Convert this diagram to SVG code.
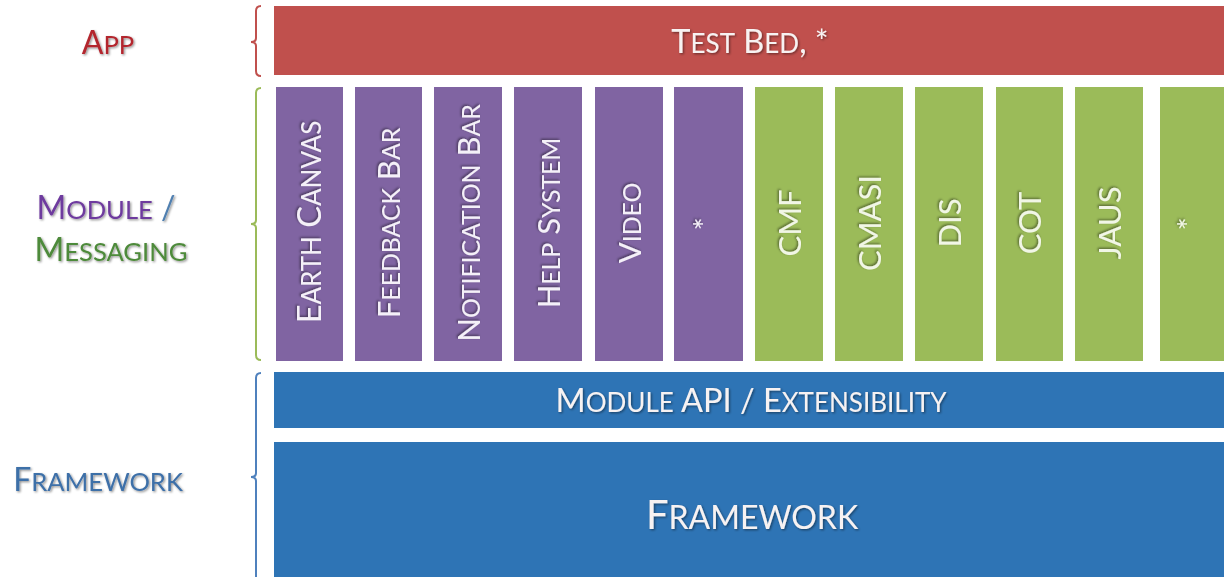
<svg xmlns="http://www.w3.org/2000/svg" width="1224" height="577" viewBox="0 0 1224 577">
<defs>
<filter id="sh" x="-10%" y="-10%" width="130%" height="130%">
<feDropShadow dx="1.2" dy="1.2" stdDeviation="0.9" flood-color="#000" flood-opacity="0.45"/>
</filter>
<filter id="shv" x="-10%" y="-10%" width="130%" height="130%">
<feDropShadow dx="1.2" dy="-1.2" stdDeviation="0.9" flood-color="#000" flood-opacity="0.45"/>
</filter>
</defs>
<style>
text{font-family:Lato,"Open Sans","Liberation Sans",sans-serif;text-anchor:middle}
.s{font-size:0.8em}
.bar-t{fill:#F7F2F2;font-size:32.5px}
.col-t{fill:#F4F0F8;font-size:31px}
.colg-t{fill:#F1F6E6;font-size:31px}
.lbl{font-size:32px}
.purple{fill:#8064A2}
.green{fill:#9BBB59}
.brace{fill:none;stroke-width:2}
</style>
<rect width="1224" height="577" fill="#FFFFFF"/>
<g id="labels">
<text class="lbl" x="108" y="54" fill="#B3262D" filter="url(#sh)">A<tspan class="s">PP</tspan></text>
<text class="lbl" x="106" y="219" filter="url(#sh)"><tspan fill="#6E3A9E">M<tspan class="s">ODULE</tspan> </tspan><tspan fill="#4F7FB0">/</tspan></text>
<text class="lbl" x="111" y="261" fill="#4E8A3A" filter="url(#sh)">M<tspan class="s">ESSAGING</tspan></text>
<text class="lbl" x="98" y="491" fill="#3E6FA8" filter="url(#sh)">F<tspan class="s">RAMEWORK</tspan></text>
</g>
<g id="braces">
<path class="brace" stroke="#C0504D" d="M261 6 Q256 6 256 11 L256 38 Q256 42 251 42 Q256 42 256 46 L256 71 Q256 76 261 76"/>
<path class="brace" stroke="#9BBB59" d="M261 88 Q256 88 256 93 L256 220 Q256 224 251 224 Q256 224 256 228 L256 355 Q256 360 261 360"/>
<path class="brace" stroke="#4F81BD" d="M261 373 Q256 373 256 378 L256 473 Q256 477 251 477 Q256 477 256 481 L256 580"/>
</g>
<g id="app">
<rect x="274" y="6" width="950" height="69" fill="#C0504D"/>
<text class="bar-t" x="750" y="53" filter="url(#sh)">T<tspan class="s">EST</tspan> B<tspan class="s">ED</tspan>, *</text>
</g>
<g id="modules">
<g id="m-earth"><rect class="purple" x="276" y="87" width="67" height="274"/><text class="col-t" transform="translate(321 222) rotate(-90)" style="font-size:32.5px" filter="url(#shv)">E<tspan class="s">ARTH</tspan> C<tspan class="s">ANVAS</tspan></text></g>
<g id="m-feedback"><rect class="purple" x="355" y="87" width="67" height="274"/><text class="col-t" transform="translate(400 223) rotate(-90)" filter="url(#shv)">F<tspan class="s">EEDBACK</tspan> B<tspan class="s">AR</tspan></text></g>
<g id="m-notification"><rect class="purple" x="434" y="87" width="68" height="274"/><text class="col-t" transform="translate(480 223) rotate(-90)" filter="url(#shv)">N<tspan class="s">OTIFICATION</tspan> B<tspan class="s">AR</tspan></text></g>
<g id="m-help"><rect class="purple" x="514" y="87" width="68" height="274"/><text class="col-t" transform="translate(560 223) rotate(-90)" filter="url(#shv)">H<tspan class="s">ELP</tspan> S<tspan class="s">YSTEM</tspan></text></g>
<g id="m-video"><rect class="purple" x="595" y="87" width="68" height="274"/><text class="col-t" transform="translate(641 223) rotate(-90)" filter="url(#shv)">V<tspan class="s">IDEO</tspan></text></g>
<g id="m-star"><rect class="purple" x="674" y="87" width="69" height="274"/><text class="col-t" transform="translate(716 224) rotate(-90)" filter="url(#shv)">*</text></g>
</g>
<g id="messaging">
<g id="g-cmf"><rect class="green" x="755" y="87" width="68" height="274"/><text class="colg-t" transform="translate(801 223) rotate(-90)" filter="url(#shv)">CMF</text></g>
<g id="g-cmasi"><rect class="green" x="835" y="87" width="68" height="274"/><text class="colg-t" transform="translate(881 223) rotate(-90)" filter="url(#shv)">CMASI</text></g>
<g id="g-dis"><rect class="green" x="915" y="87" width="68" height="274"/><text class="colg-t" transform="translate(961 223) rotate(-90)" filter="url(#shv)">DIS</text></g>
<g id="g-cot"><rect class="green" x="996" y="87" width="67" height="274"/><text class="colg-t" transform="translate(1041 223) rotate(-90)" filter="url(#shv)">COT</text></g>
<g id="g-jaus"><rect class="green" x="1075" y="87" width="68" height="274"/><text class="colg-t" transform="translate(1121 223) rotate(-90)" filter="url(#shv)">JAUS</text></g>
<g id="g-star"><rect class="green" x="1160" y="87" width="64" height="274"/><text class="colg-t" transform="translate(1200 224) rotate(-90)" filter="url(#shv)">*</text></g>
</g>
<g id="module-api">
<rect x="274" y="372" width="950" height="56" fill="#2E74B5"/>
<text class="bar-t" x="751" y="412" fill="#EEF3F9" filter="url(#sh)">M<tspan class="s">ODULE</tspan> API / E<tspan class="s">XTENSIBILITY</tspan></text>
</g>
<g id="framework">
<rect x="274" y="442" width="950" height="135" fill="#2E74B5"/>
<text class="bar-t" x="752" y="529" style="font-size:40px" filter="url(#sh)">F<tspan class="s">RAMEWORK</tspan></text>
</g>
<g id="connectors"/>
</svg>
